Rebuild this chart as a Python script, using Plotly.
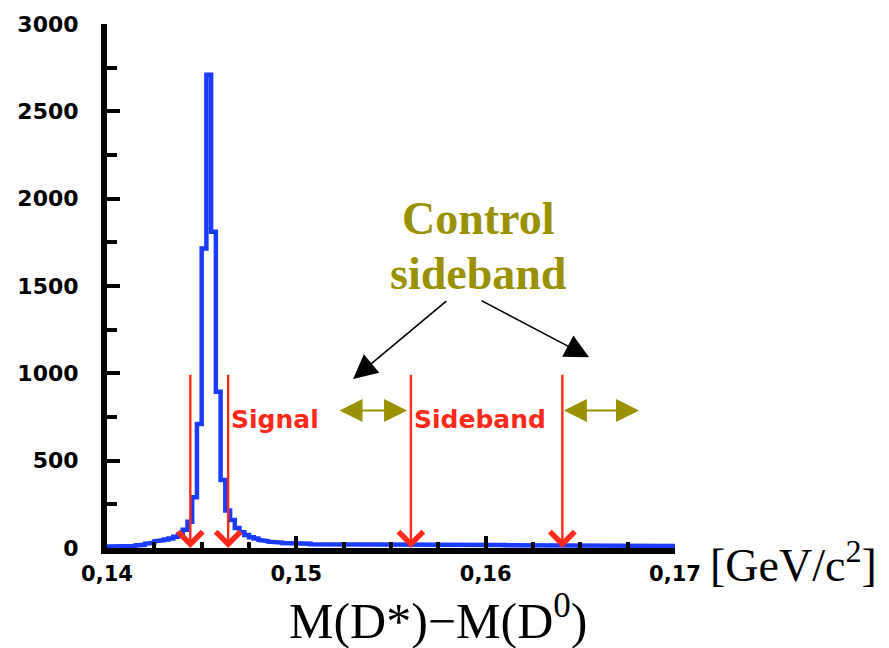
import plotly.graph_objects as go

# Histogram of M(D*) - M(D0), 0.00025 GeV/c^2 bins starting at 0.14
bin_start = 0.14
bin_width = 0.00025
counts = [
    8, 8, 9, 9, 10, 12, 15, 18, 24, 30,
    38, 44, 48, 55, 65, 78, 105, 150, 290, 710,
    1715, 2710, 1810, 895, 390, 215, 160, 115, 90, 74,
    62, 54, 46, 40, 36, 33, 31, 29, 27, 26,
    24, 23, 25, 22, 21, 23, 20, 22, 21, 20,
    19, 21, 22, 20, 19, 18, 20, 22, 21, 19,
    21, 22, 20, 19, 21, 20, 18, 19, 20, 21,
    19, 18, 17, 19, 20, 18, 17, 19, 18, 17,
    18, 17, 19, 17, 16, 18, 17, 16, 18, 17,
    16, 15, 17, 16, 15, 16, 17, 15, 16, 15,
    15, 14, 16, 15, 14, 15, 13, 14, 15, 14,
    13, 14, 13, 12, 14, 13, 12, 13, 12, 12,
]

# Cut positions (signal window and sideband window) and marker height
cut_edges = [0.14440, 0.14640, 0.15605, 0.16405]
cut_height = 1000

# Control sideband ranges shown with double arrows
control_ranges = [(0.15220, 0.15585), (0.16405, 0.16810)]
control_level = 787

# Pointer arrows from the "Control sideband" caption: (tail_x, tail_y, tip_x, tip_y)
pointers = [(0.15800, 1421, 0.15300, 968), (0.15970, 1421, 0.16546, 1092)]

x_ticks = [0.14, 0.15, 0.16, 0.17]
x_tick_text = ["0,14", "0,15", "0,16", "0,17"]
y_ticks = [0, 500, 1000, 1500, 2000, 2500, 3000]
y_tick_text = ["0", "500", "1000", "1500", "2000", "2500", "3000"]

BLUE = "#1a3cff"
RED = "#ff2a1a"
OLIVE = "#999100"

# Step outline of the histogram
edges = [bin_start + i * bin_width for i in range(len(counts) + 1)]
xs, ys = [], []
for i, c in enumerate(counts):
    xs += [edges[i], edges[i + 1]]
    ys += [c, c]

fig = go.Figure()
fig.add_trace(go.Scatter(
    x=xs, y=ys, mode="lines",
    line=dict(color=BLUE, width=4.5, shape="linear"),
    hoverinfo="skip", showlegend=False, cliponaxis=False,
))

annotations = []

# Red cut arrows
for xc in cut_edges:
    annotations.append(dict(
        x=xc, y=0, ax=xc, ay=cut_height, xref="x", yref="y", axref="x", ayref="y",
        text="", showarrow=True, arrowhead=4, arrowsize=2.0, arrowwidth=2.4,
        arrowcolor=RED, standoff=0,
    ))

# Olive double-headed arrows for the control sideband
for x0, x1 in control_ranges:
    annotations.append(dict(
        x=x1, y=control_level, ax=x0, ay=control_level,
        xref="x", yref="y", axref="x", ayref="y",
        text="", showarrow=True, arrowside="end+start",
        arrowhead=2, startarrowhead=2, arrowsize=2.3, startarrowsize=2.3,
        arrowwidth=2, arrowcolor=OLIVE, standoff=0, startstandoff=0,
    ))

# Black pointers from the caption
for tx, ty, hx, hy in pointers:
    annotations.append(dict(
        x=hx, y=hy, ax=tx, ay=ty, xref="x", yref="y", axref="x", ayref="y",
        text="", showarrow=True, arrowhead=2, arrowsize=3, arrowwidth=1.6,
        arrowcolor="black", standoff=0,
    ))

label_font = dict(family="DejaVu Sans", size=25, color=RED, weight="bold")
annotations.append(dict(x=cut_edges[1], y=736, xref="x", yref="y", text="Signal",
                        showarrow=False, xanchor="left", yanchor="middle",
                        xshift=1, font=label_font))
annotations.append(dict(x=cut_edges[2], y=736, xref="x", yref="y", text="Sideband",
                        showarrow=False, xanchor="left", yanchor="middle",
                        xshift=1, font=label_font))

caption_font = dict(family="Liberation Serif", size=46, color=OLIVE, weight="bold")
annotations.append(dict(x=0.1596, y=1884, xref="x", yref="y", text="Control",
                        showarrow=False, xanchor="center", yanchor="middle",
                        font=caption_font))
annotations.append(dict(x=0.1596, y=1572, xref="x", yref="y", text="sideband",
                        showarrow=False, xanchor="center", yanchor="middle",
                        font=caption_font))

annotations.append(dict(x=1.058, y=-0.026, xref="paper", yref="paper",
                        text="[GeV/c<sup>2</sup>]", showarrow=False,
                        xanchor="left", yanchor="middle",
                        font=dict(family="Liberation Serif", size=46, color="black")))
annotations.append(dict(x=0.583, y=-0.132, xref="paper", yref="paper",
                        text="M(D*)\u2212M(D<sup>0</sup>)", showarrow=False,
                        xanchor="center", yanchor="middle",
                        font=dict(family="Liberation Serif", size=50, color="black")))

fig.update_layout(
    width=889, height=648,
    margin=dict(l=107, r=214, t=18, b=100),
    paper_bgcolor="white", plot_bgcolor="white",
    annotations=annotations,
    xaxis=dict(
        range=[0.14, 0.17], tickvals=x_ticks, ticktext=x_tick_text,
        showgrid=False, zeroline=False, showline=True, linecolor="black", linewidth=6,
        ticks="inside", ticklen=12, tickwidth=3.5, tickcolor="black",
        minor=dict(dtick=0.0025, ticks="inside", ticklen=6, tickwidth=3.5, tickcolor="black"),
        tickfont=dict(family="DejaVu Sans", size=21, color="black", weight="bold"),
        ticklabelstandoff=2,
    ),
    yaxis=dict(
        range=[0, 3000], tickvals=y_ticks, ticktext=y_tick_text,
        showgrid=False, zeroline=False, showline=True, linecolor="black", linewidth=6,
        ticks="inside", ticklen=13, tickwidth=3.5, tickcolor="black",
        minor=dict(dtick=250, ticks="inside", ticklen=10, tickwidth=3.5, tickcolor="black"),
        tickfont=dict(family="DejaVu Sans", size=22, color="black", weight="bold"),
        ticklabelstandoff=18,
    ),
)

fig.write_html("out.html")
